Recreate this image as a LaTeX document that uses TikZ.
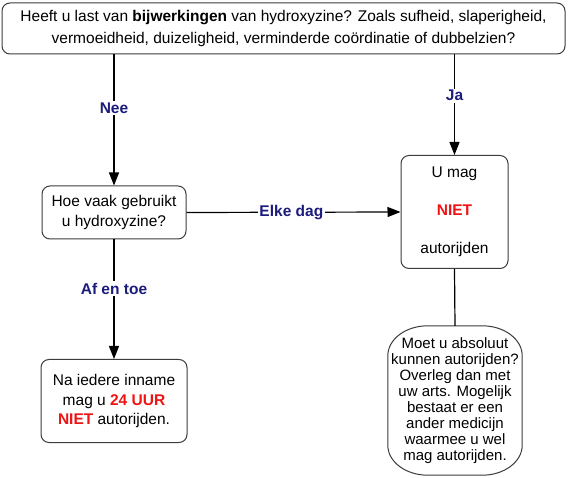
\documentclass[tikz,border=0pt]{standalone}
\usepackage{fontspec}
\setmainfont{Liberation Sans}
\usetikzlibrary{arrows.meta}
\definecolor{lblnavy}{RGB}{28,28,125}
\definecolor{warnred}{RGB}{240,20,20}
\definecolor{boxline}{RGB}{60,60,60}
\tikzset{
  box/.style={draw=boxline, line width=1pt, fill=white, rounded corners=8pt, align=center, inner sep=0pt},
  mainfont/.style={font=\fontsize{15.5}{19.3}\selectfont},
  lbl/.style={fill=white, text=lblnavy, font=\fontsize{15.5}{18}\selectfont\bfseries, inner sep=1.5pt},
  conn/.style={line width=1.2pt, draw=black},
  arr/.style={conn, -{Triangle[length=13pt,width=10pt]}},
  outline/.style={draw=boxline, line width=1pt, fill=white}
}
\begin{document}
\begin{tikzpicture}[x=1pt,y=-1pt]
\useasboundingbox (0,0) rectangle (568,478);
\node[box, font=\fontsize{15.5}{22.5}\selectfont, minimum width=563pt, minimum height=51pt] (top) at (283.5,28.5)
  {Heeft u last van \textbf{bijwerkingen} van hydroxyzine? Zoals sufheid, slaperigheid,\\vermoeidheid, duizeligheid, verminderde coördinatie of dubbelzien?};
\node[box, mainfont, minimum width=144pt, minimum height=53pt] (hoe) at (114,212.5)
  {Hoe vaak gebruikt\\u hydroxyzine?};
\node[box, font=\fontsize{15.5}{38}\selectfont, minimum width=107pt, minimum height=113pt] (umag) at (454.5,212)
  {U mag\\\textcolor{warnred}{\textbf{NIET}}\\autorijden};
\node[box, mainfont, minimum width=146pt, minimum height=83pt] (na) at (114,401)
  {Na iedere inname\\mag u \textcolor{warnred}{\textbf{24 UUR}}\\\textcolor{warnred}{\textbf{NIET}} autorijden.};
% rounded outline with elliptical corners
\node[inner sep=0pt, minimum width=134pt, minimum height=149pt] (moetframe) at (455,400.5) {};
\draw[outline] ([xshift=40pt]moetframe.north west) -- ([xshift=-40pt]moetframe.north east)
  arc[start angle=90, end angle=0, x radius=40pt, y radius=30pt]
  -- ([yshift=30pt]moetframe.south east)
  arc[start angle=0, end angle=-90, x radius=40pt, y radius=30pt]
  -- ([xshift=40pt]moetframe.south west)
  arc[start angle=270, end angle=180, x radius=40pt, y radius=30pt]
  -- ([yshift=-30pt]moetframe.north west)
  arc[start angle=180, end angle=90, x radius=40pt, y radius=30pt] -- cycle;
\node[align=center, inner sep=0pt, font=\fontsize{15}{15.9}\selectfont] (moet) at (moetframe.center)
  {Moet u absoluut\\kunnen autorijden?\\Overleg dan met\\uw arts. Mogelijk\\bestaat er een\\ander medicijn\\waarmee u wel\\mag autorijden.};
\draw[arr] (top.south -| hoe.north) -- (hoe.north) node[lbl, pos=0.41] {Nee};
\draw[arr] (top.south -| umag.north) -- (umag.north) node[lbl, pos=0.41] {Ja};
\draw[arr] (hoe.east) -- (umag.west) node[lbl, pos=0.49] {Elke dag};
\draw[arr] (hoe.south) -- (na.north) node[lbl, pos=0.41] {Af en toe};
\draw[conn] (umag.south) -- (moetframe.north);
\end{tikzpicture}
\end{document}
